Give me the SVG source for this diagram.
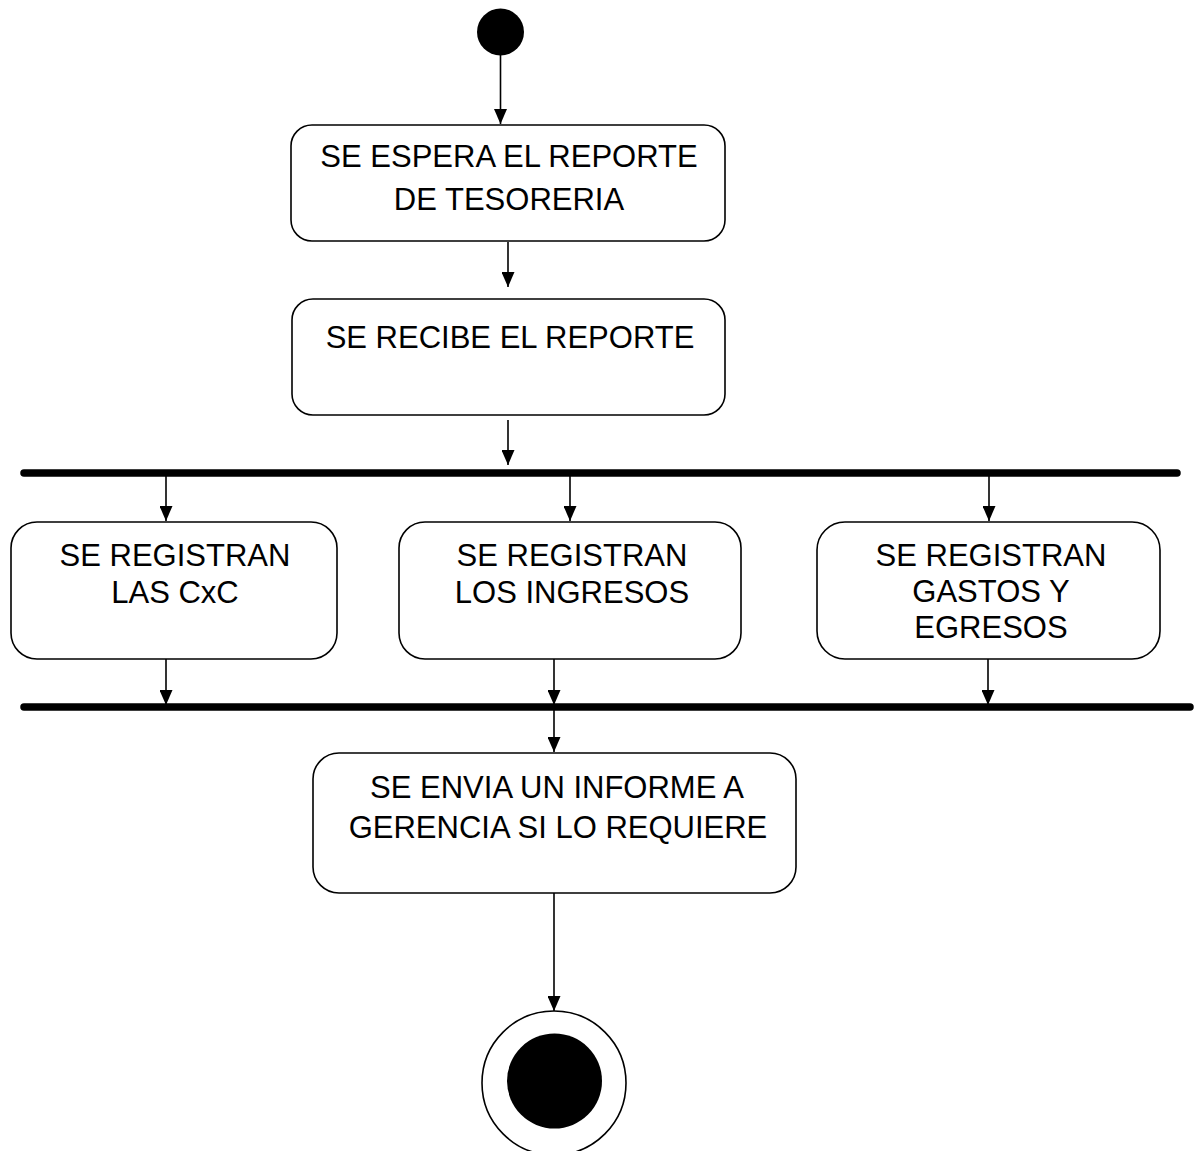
<svg xmlns="http://www.w3.org/2000/svg" width="1195" height="1151" viewBox="0 0 1195 1151">
<style>
.box{fill:#fff;stroke:#000;stroke-width:1.6}
.t{font-family:"Liberation Sans",Arial,sans-serif;font-size:31px;fill:#000;text-anchor:middle}
.c{stroke:#000;stroke-width:1.6;fill:none;marker-end:url(#ah)}
.bar{stroke:#000;stroke-width:7.5;stroke-linecap:round}
</style>
<defs>
<marker id="ah" viewBox="0 0 15 13" refX="15" refY="6.5" markerWidth="15" markerHeight="13" orient="auto" markerUnits="userSpaceOnUse">
<path d="M0,0 L15,6.5 L0,13 z" fill="#000"/>
</marker>
</defs>
<rect width="1195" height="1151" fill="#fff"/>
<g id="start"><circle cx="500.5" cy="32" r="23.5" fill="#000"/></g>
<g id="n1">
<rect class="box" x="291" y="125" width="434" height="116" rx="21"/>
<text class="t" x="509" y="167">SE ESPERA EL REPORTE</text>
<text class="t" x="509" y="210">DE TESORERIA</text>
</g>
<g id="n2">
<rect class="box" x="292" y="299" width="433" height="116" rx="21"/>
<text class="t" x="510" y="348">SE RECIBE EL REPORTE</text>
</g>
<g id="fork"><line class="bar" x1="24" y1="473" x2="1177" y2="473"/></g>
<g id="n3">
<rect class="box" x="11" y="522" width="326" height="137" rx="26"/>
<text class="t" x="175" y="566">SE REGISTRAN</text>
<text class="t" x="175" y="603">LAS CxC</text>
</g>
<g id="n4">
<rect class="box" x="399" y="522" width="342" height="137" rx="26"/>
<text class="t" x="572" y="566">SE REGISTRAN</text>
<text class="t" x="572" y="603">LOS INGRESOS</text>
</g>
<g id="n5">
<rect class="box" x="817" y="522" width="343" height="137" rx="28"/>
<text class="t" x="991" y="566">SE REGISTRAN</text>
<text class="t" x="991" y="602">GASTOS Y</text>
<text class="t" x="991" y="638">EGRESOS</text>
</g>
<g id="join"><line class="bar" x1="24" y1="707" x2="1190" y2="707"/></g>
<g id="n6">
<rect class="box" x="313" y="753" width="483" height="140" rx="26"/>
<text class="t" x="557" y="798">SE ENVIA UN INFORME A</text>
<text class="t" x="558" y="838">GERENCIA SI LO REQUIERE</text>
</g>
<g id="end">
<circle cx="554" cy="1083" r="72" fill="#fff" stroke="#000" stroke-width="1.6"/>
<circle cx="554.5" cy="1081" r="47.5" fill="#000"/>
</g>
<g id="connectors">
<line class="c" x1="500.5" y1="55" x2="500.5" y2="124"/>
<line class="c" x1="508" y1="242" x2="508" y2="287"/>
<line class="c" x1="508" y1="420" x2="508" y2="465"/>
<line class="c" x1="166" y1="476" x2="166" y2="521"/>
<line class="c" x1="570" y1="476" x2="570" y2="521"/>
<line class="c" x1="989" y1="476" x2="989" y2="521"/>
<line class="c" x1="166" y1="659" x2="166" y2="705"/>
<line class="c" x1="554" y1="659" x2="554" y2="705"/>
<line class="c" x1="988" y1="659" x2="988" y2="705"/>
<line class="c" x1="554" y1="709" x2="554" y2="752"/>
<line class="c" x1="554" y1="893" x2="554" y2="1011"/>
</g>
</svg>
